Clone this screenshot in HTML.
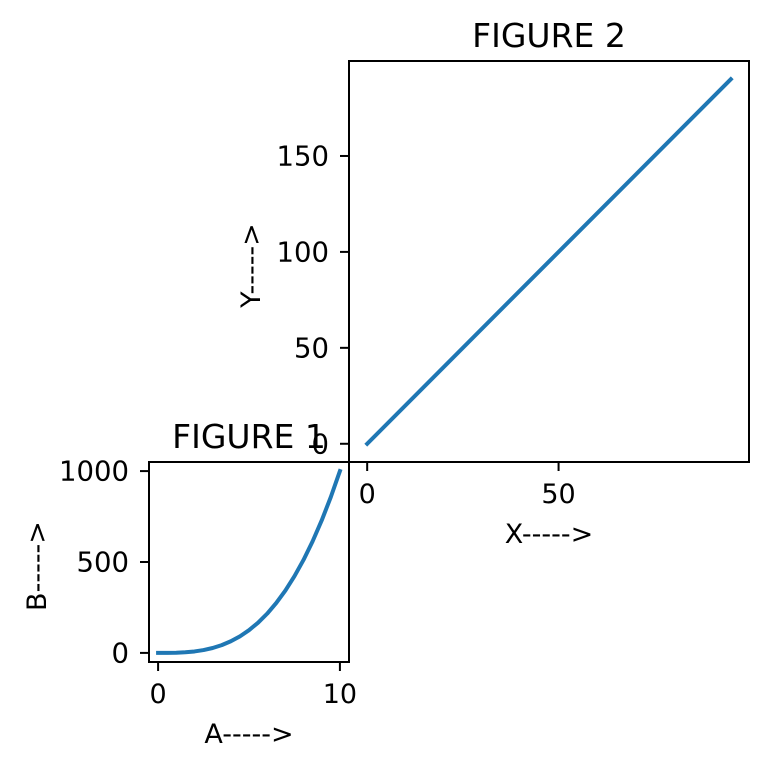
<!DOCTYPE html>
<html><head><meta charset="utf-8"><style>
body{margin:0;background:#fff;}
svg{font-family:"DejaVu Sans","Liberation Sans",sans-serif;}
</style></head><body>
<svg id="chart" width="769" height="769" viewBox="0 0 769 769">
<rect width="769" height="769" fill="#fff"/>
<g id="fig2"></g>
<g id="fig1"></g>
</svg>
<script>
const fig2X = [0, 95];
const fig2Y = [0, 190];
const fig2XTicks = [0, 50];
const fig2YTicks = [0, 50, 100, 150];
const fig1A = [0,0.5,1,1.5,2,2.5,3,3.5,4,4.5,5,5.5,6,6.5,7,7.5,8,8.5,9,9.5,10];
const fig1B = [0,0.1,1,3.4,8,15.6,27,42.9,64,91.1,125,166.4,216,274.6,343,421.9,512,614.1,729,857.4,1000];
const fig1XTicks = [0, 10];
const fig1YTicks = [0, 500, 1000];

const NS = "http://www.w3.org/2000/svg";
function mk(parent, tag, attrs, text){
  const e = document.createElementNS(NS, tag);
  for (const k in attrs) e.setAttribute(k, attrs[k]);
  if (text !== undefined) e.textContent = text;
  parent.appendChild(e);
  return e;
}
function drawAxes(g, box, xs, ys, xt, yt, title, xl, yl, yTitleX){
  const xmin=Math.min(...xs), xmax=Math.max(...xs), ymin=Math.min(...ys), ymax=Math.max(...ys);
  const xm=(xmax-xmin)*0.05, ym=(ymax-ymin)*0.05;
  const sx=v=>box.x+(v-(xmin-xm))/((xmax+xm)-(xmin-xm))*box.w;
  const sy=v=>box.y+box.h-(v-(ymin-ym))/((ymax+ym)-(ymin-ym))*box.h;
  const bg = mk(g,'rect',{x:box.x,y:box.y,width:box.w,height:box.h,fill:'#fff',stroke:'none'});
  
  
  const pts = xs.map((v,i)=>sx(v).toFixed(2)+','+sy(ys[i]).toFixed(2)).join(' ');
  const line = mk(g,'polyline',{points:pts,fill:'none',stroke:'#1f77b4','stroke-width':4,'stroke-linecap':'square','stroke-linejoin':'round'});
  
  
  const fr = mk(g,'rect',{x:box.x,y:box.y,width:box.w,height:box.h,fill:'none',stroke:'#000','stroke-width':2});
  
  
  xt.forEach(t=>{
    const x=sx(t);
    mk(g,'line',{x1:x,x2:x,y1:box.y+box.h,y2:box.y+box.h+9,stroke:'#000','stroke-width':2});
    const tx = mk(g,'text',{x:x,y:box.y+box.h+41,'font-size':27,'text-anchor':'middle',fill:'#000'},String(t));
    
    
  });
  yt.forEach(t=>{
    const y=sy(t);
    mk(g,'line',{x1:box.x,x2:box.x-9,y1:y,y2:y,stroke:'#000','stroke-width':2});
    const tx = mk(g,'text',{x:box.x-20,y:y+9.5,'font-size':27.5,'text-anchor':'end',fill:'#000'},String(t));
    
    
  });
  const ti = mk(g,'text',{x:box.x+box.w/2,y:box.y-14,'font-size':33,'text-anchor':'middle',fill:'#000'},title);
  
  
  const xa = mk(g,'text',{x:box.x+box.w/2,y:box.y+box.h+81,'font-size':27,'text-anchor':'middle',fill:'#000'},xl);
  
  
  const cy=box.y+box.h/2+4;
  const ya = mk(g,'text',{x:yTitleX,y:cy,'font-size':27,'text-anchor':'middle',fill:'#000',transform:`rotate(-90 ${yTitleX} ${cy})`},yl);
  
  
}
drawAxes(document.getElementById('fig2'),{x:349,y:61,w:400,h:401},fig2X,fig2Y,fig2XTicks,fig2YTicks,'FIGURE 2','X----->','Y----->',260);
drawAxes(document.getElementById('fig1'),{x:149,y:462,w:200,h:200},fig1A,fig1B,fig1XTicks,fig1YTicks,'FIGURE 1','A----->','B----->',46);
</script>
</body></html>
